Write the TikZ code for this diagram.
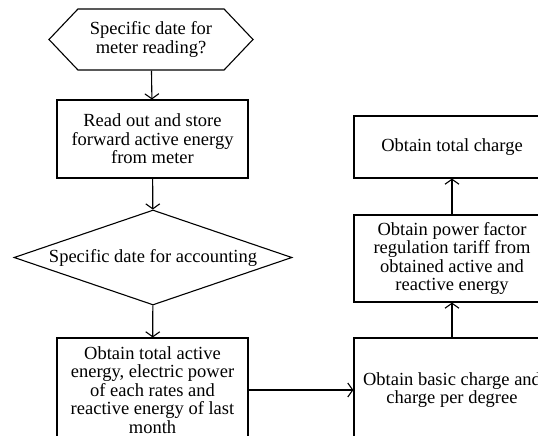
\documentclass[tikz,border=0pt]{standalone}
\usepackage{fontspec}
\setmainfont{Liberation Serif}
\usetikzlibrary{shapes.geometric,shapes.symbols,arrows.meta}
\tikzset{
    block/.style={draw,line width=1.1pt,align=center,inner sep=2pt,minimum width=191},
    rblock/.style={block,minimum width=196},
    start/.style={draw,line width=1.1pt,align=center,signal,signal to=east and west,
        signal pointer angle=93,minimum width=204,minimum height=61,inner sep=1pt},
    decision/.style={draw,line width=1.1pt,diamond,aspect=2.93,inner sep=0pt,
        minimum width=278,minimum height=95},
    flow/.style={line width=1.1pt,-{Straight Barb[length=5pt,width=14pt]}}
}
\begin{document}
\begin{tikzpicture}[x=1pt,y=-1pt,font=\fontsize{18.5}{18.5}\selectfont]
\useasboundingbox(0,0)rectangle(538,436);
\clip(0,0)rectangle(538,436);
\node[start](hex) at (151,39.5){Specific date for\\meter reading?};
\node[block,minimum height=78](read) at (152.5,139){Read out and store\\forward active energy\\from meter};
\node[decision](acct) at (153,257.5){Specific date for accounting};
\node[block,minimum height=104](total) at (152.5,390){Obtain total active\\energy, electric power\\of each rates and\\reactive energy of last\\month};
\node[rblock,minimum height=104](basic) at (452,390){Obtain basic charge and\\charge per degree};
\node[rblock,minimum height=87](factor) at (452,258.5){Obtain power factor\\regulation tariff from\\obtained active and\\reactive energy};
\node[rblock,minimum height=62](charge) at (452,147){Obtain total charge};
\draw[flow](hex)--(read);
\draw[flow](read)--(acct);
\draw[flow](acct)--(total);
\draw[flow](total)--(basic);
\draw[flow](basic)--(factor);
\draw[flow](factor)--(charge);
\end{tikzpicture}
\end{document}
